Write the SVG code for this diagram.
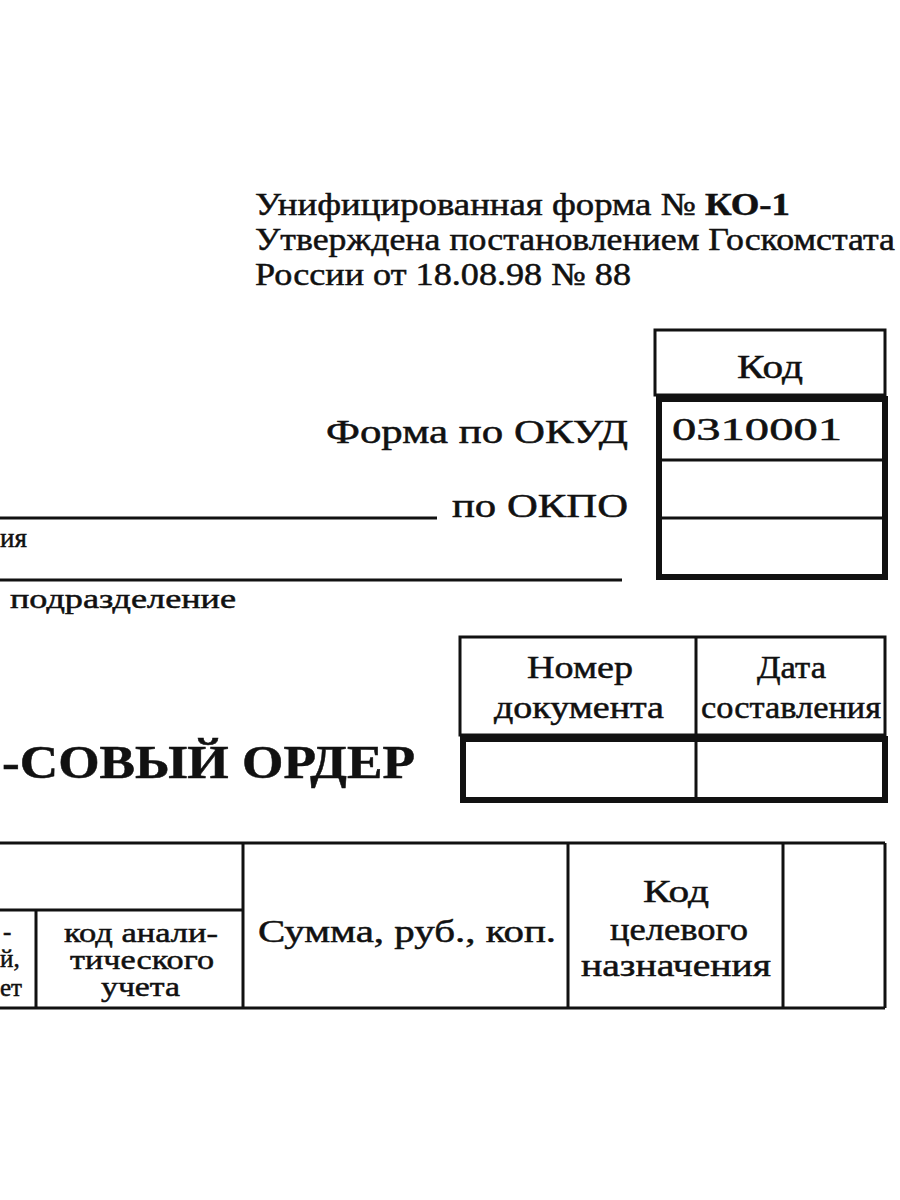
<svg xmlns="http://www.w3.org/2000/svg" width="900" height="1200" viewBox="0 0 900 1200">
<style>
text{font-family:"Liberation Serif","DejaVu Serif",serif;fill:#111;stroke:#111;stroke-width:0.5}
.h{font-size:32px}
.t{fill:none;stroke:#111;stroke-width:3}
.b{fill:none;stroke:#111;stroke-width:6}
</style>
<rect width="900" height="1200" fill="#fff"/>
<text class="h" x="255" y="215" textLength="535" lengthAdjust="spacingAndGlyphs">Унифицированная форма № <tspan font-weight="bold">КО-1</tspan></text>
<text class="h" x="255" y="250" textLength="640" lengthAdjust="spacingAndGlyphs">Утверждена постановлением Госкомстата</text>
<text class="h" x="255" y="285" textLength="376" lengthAdjust="spacingAndGlyphs">России от 18.08.98 № 88</text>
<rect class="t" x="655" y="330" width="230" height="65"/>
<text x="737" y="378" font-size="34" textLength="66" lengthAdjust="spacingAndGlyphs">Код</text>
<rect class="b" x="659" y="399" width="226" height="178"/>
<path class="t" d="M659 460H885M659 518H885"/>
<text x="672" y="440" font-size="32" textLength="170" lengthAdjust="spacingAndGlyphs">0310001</text>
<text x="326" y="443" font-size="34" textLength="302" lengthAdjust="spacingAndGlyphs">Форма по ОКУД</text>
<text x="452" y="517" font-size="34" textLength="176" lengthAdjust="spacingAndGlyphs">по ОКПО</text>
<path class="t" d="M0 518H437M0 580H622"/>
<text x="0" y="547" font-size="27">ия</text>
<text x="10" y="608" font-size="27" textLength="226" lengthAdjust="spacingAndGlyphs">подразделение</text>
<rect class="t" x="460" y="637" width="425" height="98"/>
<path class="t" d="M696 637V800"/>
<text x="527" y="678" font-size="32" textLength="106" lengthAdjust="spacingAndGlyphs">Номер</text>
<text x="494" y="718" font-size="31" textLength="170" lengthAdjust="spacingAndGlyphs">документа</text>
<text x="757" y="678" font-size="32" textLength="69" lengthAdjust="spacingAndGlyphs">Дата</text>
<text x="701" y="718" font-size="31" textLength="180" lengthAdjust="spacingAndGlyphs">составления</text>
<rect class="b" x="463" y="739" width="422" height="61"/>
<text x="2" y="778" font-size="46" font-weight="bold" textLength="413" lengthAdjust="spacingAndGlyphs">-СОВЫЙ  ОРДЕР</text>
<path class="t" d="M0 843H885M0 1008H885M243 843V1008M568 843V1008M783 843V1008M885 843V1008M0 910H243M36 910V1008"/>
<text x="64" y="942" font-size="28" textLength="154" lengthAdjust="spacingAndGlyphs">код анали-</text>
<text x="70" y="969" font-size="28" textLength="144" lengthAdjust="spacingAndGlyphs">тического</text>
<text x="101" y="996" font-size="28" textLength="79" lengthAdjust="spacingAndGlyphs">учета</text>
<text x="3" y="940" font-size="25">-</text>
<text x="0" y="967" font-size="25">й,</text>
<text x="0" y="996" font-size="25">ет</text>
<text x="258" y="942" font-size="32" textLength="298" lengthAdjust="spacingAndGlyphs">Сумма, руб., коп.</text>
<text x="643" y="902" font-size="32" textLength="66" lengthAdjust="spacingAndGlyphs">Код</text>
<text x="610" y="940" font-size="32" textLength="138" lengthAdjust="spacingAndGlyphs">целевого</text>
<text x="581" y="976" font-size="32" textLength="190" lengthAdjust="spacingAndGlyphs">назначения</text>
</svg>
